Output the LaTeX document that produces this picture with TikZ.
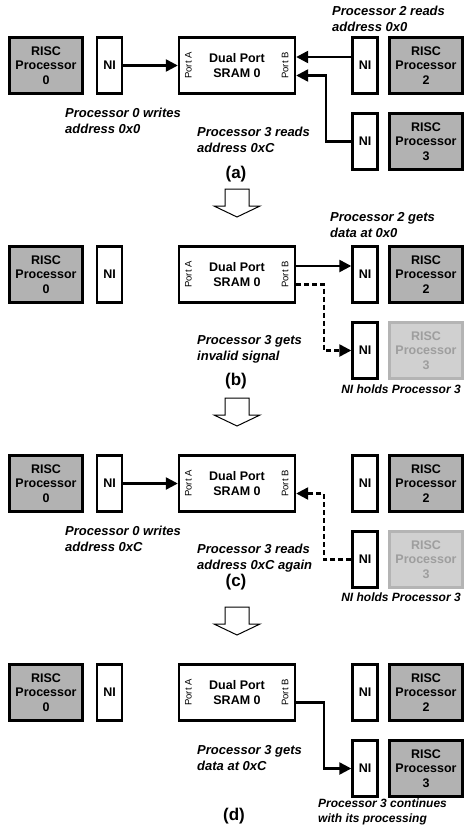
\documentclass[tikz,border=0pt]{standalone}
\usepackage{fontspec}
\setmainfont{Liberation Sans}
\usetikzlibrary{arrows.meta}

\definecolor{procgray}{RGB}{178,178,178}
\definecolor{idlefill}{RGB}{208,208,208}
\definecolor{idledraw}{RGB}{180,180,180}
\definecolor{idletext}{RGB}{158,158,158}

\tikzset{
  risc/.style={draw, line width=2.4pt, fill=procgray, minimum width=73pt, minimum height=56pt,
    inner sep=0pt, align=center, font=\bfseries\fontsize{12.5}{14.5}\selectfont},
  riscidle/.style={risc, draw=idledraw, fill=idlefill, text=idletext},
  nibox/.style={draw, line width=2.4pt, fill=white, minimum width=25pt, minimum height=56pt,
    inner sep=0pt, align=center, font=\bfseries\fontsize{12.5}{14.5}\selectfont},
  sram/.style={nibox, minimum width=116pt},
  port/.style={rotate=90, inner sep=0pt, font=\fontsize{9.5}{11}\selectfont},
  note/.style={anchor=west, align=left, inner sep=0pt, font=\bfseries\itshape\fontsize{13}{16}\selectfont},
  smallnote/.style={note, font=\bfseries\itshape\fontsize{12}{15}\selectfont},
  caption/.style={inner sep=0pt, font=\bfseries\fontsize{17}{20}\selectfont},
  link/.style={line width=2.4pt, -{Triangle[length=12pt,width=12pt]}},
  dlink/.style={link, dash pattern=on 5pt off 3pt},
  nextstep/.style={draw, line width=1pt, fill=white, line join=miter}
}

\begin{document}
\begin{tikzpicture}[x=1pt, y=-1pt]
    \useasboundingbox (0,0) rectangle (464,830);

    % the four snapshots share the same boxes
    \foreach \p/\dy in {a/0, b/209, c/418, d/627} {
        \node[risc] (risc0\p) at (46,65.5+\dy) {RISC\\Processor\\0};
        \node[nibox] (ni0\p) at (109.5,65.5+\dy) {NI};
        \node[sram] (sram\p) at (237,65.5+\dy) {Dual Port\\SRAM 0};
        \node[port] (porta\p) at ([xshift=10.5pt]sram\p.west) {Port A};
        \node[port] (portb\p) at ([xshift=-11pt]sram\p.east) {Port B};
        \node[nibox] (ni2\p) at (365,65.5+\dy) {NI};
        \node[risc] (risc2\p) at (426,65.5+\dy) {RISC\\Processor\\2};
        \node[nibox] (ni3\p) at (365,141.5+\dy) {NI};
        \coordinate (up\p) at ([yshift=8.5pt]sram\p.east);
        \coordinate (lo\p) at ([yshift=-10pt]sram\p.east);
    }
    \node[risc] (risc3a) at (426,141.5) {RISC\\Processor\\3};
    \node[riscidle] (risc3b) at (426,350.5) {RISC\\Processor\\3};
    \node[riscidle] (risc3c) at (426,559.5) {RISC\\Processor\\3};
    \node[risc] (risc3d) at (426,768.5) {RISC\\Processor\\3};

    % hollow arrows between the snapshots
    \foreach \dy in {0, 209, 418} {
        \draw[nextstep] (225,189+\dy) -- (249,189+\dy) -- (249,206+\dy) -- (260,206+\dy)
            -- (237,217+\dy) -- (214,206+\dy) -- (225,206+\dy) -- cycle;
    }

    % (a)
    \draw[link] (ni0a) -- (srama);
    \draw[link] (ni2a.west |- upa) -- (upa);
    \draw[link] (ni3a) -| ([xshift=30pt]loa) -- (loa);
    \node[note] (txt2a) at (332,18.5) {Processor 2 reads\\address 0x0};
    \node[note] (txt0a) at (65,120.5) {Processor 0 writes\\address 0x0};
    \node[note] (txt3a) at (197,139.5) {Processor 3 reads\\address 0xC};
    \node[caption] (capa) at (236,174) {(a)};

    % (b)
    \draw[link] (upb) -- (ni2b.west |- upb);
    \draw[dlink] (lob) -- ++(28,0) |- (ni3b);
    \node[note] (txt2b) at (330,225.5) {Processor 2 gets\\data at 0x0};
    \node[note] (txt3b) at (197,349.5) {Processor 3 gets\\invalid signal};
    \node[caption] (capb) at (236,381) {(b)};
    \node[smallnote, anchor=center] (holdb) at (401,389) {NI holds Processor 3};

    % (c)
    \draw[link] (ni0c) -- (sramc);
    \draw[dlink] (ni3c) -| ([xshift=28pt]loc) -- (loc);
    \node[note] (txt0c) at (65,538.5) {Processor 0 writes\\address 0xC};
    \node[note] (txt3c) at (197,558) {Processor 3 reads\\address 0xC again};
    \node[caption] (capc) at (236,582) {(c)};
    \node[smallnote, anchor=center] (holdc) at (401,597) {NI holds Processor 3};

    % (d)
    \draw[link] (lod) -- ++(28,0) |- (ni3d);
    \node[note] (txt3d) at (197,758.5) {Processor 3 gets\\data at 0xC};
    \node[smallnote] (txtcd) at (318,812) {Processor 3 continues\\with its processing};
    \node[caption] (capd) at (234,816) {(d)};
\end{tikzpicture}
\end{document}
